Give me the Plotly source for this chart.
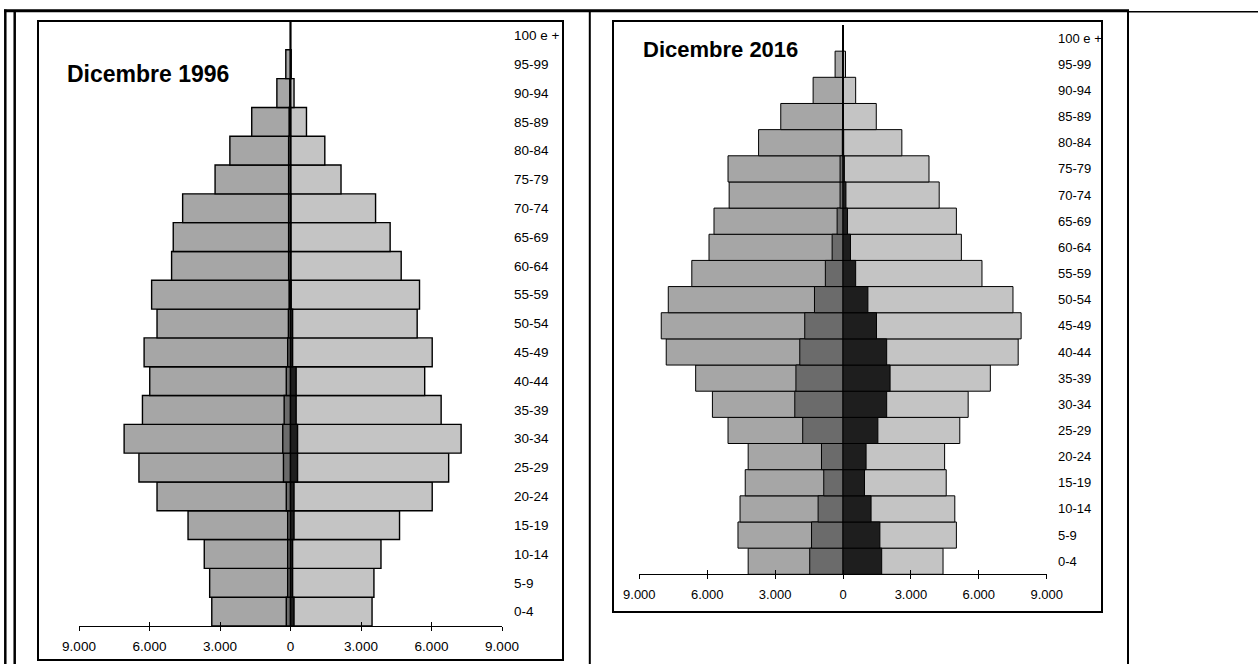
import plotly.graph_objects as go

# ---------------- data ----------------
ages = ["0-4", "5-9", "10-14", "15-19", "20-24", "25-29", "30-34", "35-39",
        "40-44", "45-49", "50-54", "55-59", "60-64", "65-69", "70-74",
        "75-79", "80-84", "85-89", "90-94", "95-99", "100 e +"]

tick_vals = [-9000, -6000, -3000, 0, 3000, 6000, 9000]
tick_text = ["9.000", "6.000", "3.000", "0", "3.000", "6.000", "9.000"]

# Dicembre 1996
left_tot_1996 = [3350, 3440, 3670, 4360, 5680, 6450, 7080, 6300, 5990, 6230, 5680,
                 5910, 5060, 4990, 4590, 3210, 2580, 1650, 580, 200, 0]
right_tot_1996 = [3470, 3550, 3850, 4640, 6030, 6730, 7260, 6410, 5710, 6030, 5390,
                  5490, 4710, 4240, 3620, 2150, 1460, 680, 150, 30, 0]
left_str_1996 = [180, 120, 120, 120, 180, 300, 330, 270, 180, 120, 90,
                 60, 80, 80, 80, 80, 80, 60, 30, 0, 0]
right_str_1996 = [150, 90, 90, 150, 150, 300, 300, 240, 240, 90, 90,
                  30, 20, 20, 20, 10, 10, 10, 0, 0, 0]

# Dicembre 2016
left_tot_2016 = [4190, 4640, 4550, 4320, 4190, 5080, 5770, 6510, 7810, 8030, 7720,
                 6680, 5920, 5700, 5030, 5080, 3730, 2750, 1320, 350, 20]
right_tot_2016 = [4420, 5010, 4940, 4560, 4490, 5160, 5530, 6510, 7740, 7870, 7510,
                  6140, 5230, 5010, 4250, 3800, 2600, 1470, 560, 110, 20]
left_str_2016 = [1470, 1390, 1100, 850, 950, 1780, 2130, 2080, 1910, 1690, 1260,
                 780, 480, 260, 130, 130, 30, 20, 10, 0, 0]
right_str_2016 = [1710, 1630, 1240, 950, 1020, 1540, 1930, 2080, 1930, 1480, 1100,
                  560, 330, 200, 130, 60, 30, 20, 10, 0, 0]

titles = ["Dicembre 1996", "Dicembre 2016"]

# ---------------- styling ----------------
W, H = 1258, 664
FONT = "Liberation Sans, Arial, Helvetica, sans-serif"
C_LEFT = "#a6a6a6"
C_RIGHT = "#c4c4c4"
C_LEFT_IN = "#6b6b6b"
C_RIGHT_IN = "#1e1e1e"


def px(x):
    return x / W


def py(y):
    return 1 - y / H


fig = go.Figure()


def neg(v):
    return [-a for a in v]


def add_pyramid(xa, ya, lt, rt, ls, rs, lw):
    for vals, col in ((neg(lt), C_LEFT), (rt, C_RIGHT), (neg(ls), C_LEFT_IN), (rs, C_RIGHT_IN)):
        fig.add_trace(go.Bar(
            x=vals, y=ages, orientation="h", xaxis=xa, yaxis=ya,
            marker=dict(color=col, line=dict(color="black", width=lw)),
            opacity=1, showlegend=False, hoverinfo="skip"))


add_pyramid("x", "y", left_tot_1996, right_tot_1996, left_str_1996, right_str_1996, 1.4)
add_pyramid("x2", "y2", left_tot_2016, right_tot_2016, left_str_2016, right_str_2016, 1.0)

# dummy traces so the overlay axes (crossing tick marks) are drawn
fig.add_trace(go.Scatter(x=[None], y=[None], xaxis="x3", yaxis="y", mode="markers",
                         showlegend=False, hoverinfo="skip"))
fig.add_trace(go.Scatter(x=[None], y=[None], xaxis="x4", yaxis="y2", mode="markers",
                         showlegend=False, hoverinfo="skip"))


def xaxis_main(x0, x1, anchor, zw, fsize):
    return dict(domain=[px(x0), px(x1)], range=[-9000, 9000], anchor=anchor,
                tickmode="array", tickvals=tick_vals, ticktext=tick_text,
                ticks="outside", ticklen=4, tickwidth=1, tickcolor="black",
                showline=True, linecolor="black", linewidth=1,
                showgrid=False, zeroline=True, zerolinecolor="black",
                zerolinewidth=zw, layer="above traces", fixedrange=True,
                ticklabelstandoff=4, automargin=False,
                tickfont=dict(family=FONT, size=fsize, color="black"))


def xaxis_over(x0, x1, anchor, over):
    return dict(domain=[px(x0), px(x1)], range=[-9000, 9000], anchor=anchor,
                overlaying=over, tickmode="array", tickvals=tick_vals,
                ticks="inside", ticklen=4, tickwidth=1, tickcolor="black",
                showticklabels=False, showline=False, showgrid=False,
                zeroline=False, layer="above traces", fixedrange=True,
                automargin=False)


def yaxis(y_top, y_bot, pos, fsize):
    return dict(domain=[py(y_bot), py(y_top)], range=[-0.5, len(ages) - 0.5],
                type="category", categoryorder="array", categoryarray=ages,
                side="right", anchor="free", position=px(pos),
                showline=False, ticks="", showgrid=False, zeroline=False,
                fixedrange=True, automargin=False,
                tickfont=dict(family=FONT, size=fsize, color="black"))


fig.update_layout(
    template="none",
    width=W, height=H,
    margin=dict(l=0, r=0, t=0, b=0, pad=0, autoexpand=False),
    paper_bgcolor="white", plot_bgcolor="rgba(0,0,0,0)",
    barmode="overlay", bargap=0,
    font=dict(family=FONT, color="black"),
    xaxis=xaxis_main(79, 502, "y", 1, 13.5),
    yaxis=yaxis(21, 626, 513, 13.5),
    xaxis3=xaxis_over(79, 502, "y", "x"),
    xaxis2=xaxis_main(639.3, 1046.7, "y2", 2, 13),
    yaxis2=yaxis(25, 574.3, 1057, 13),
    xaxis4=xaxis_over(639.3, 1046.7, "y2", "x2"),
)

# ---------------- table borders and frames ----------------
def line(x0, y0, x1, y1, w):
    return dict(type="line", xref="paper", yref="paper",
                x0=px(x0), y0=py(y0), x1=px(x1), y1=py(y1),
                line=dict(color="black", width=w), layer="above")


def rect(x0, y0, x1, y1, w):
    return dict(type="rect", xref="paper", yref="paper",
                x0=px(x0), y0=py(y0), x1=px(x1), y1=py(y1),
                line=dict(color="black", width=w),
                fillcolor="rgba(0,0,0,0)", layer="above")


shapes = [
    line(4, 10.8, 1129, 10.8, 3),
    line(1128, 11.8, 1258, 11.8, 1.5),
    line(5.3, 9.5, 5.3, 664, 2.5),
    line(14.7, 10.5, 14.7, 664, 2.5),
    line(589.8, 10.5, 589.8, 664, 2),
    line(1128, 10.5, 1128, 664, 2),
    rect(38, 21, 563, 660, 2),
    rect(613, 21, 1102, 612, 2),
]
fig.update_layout(shapes=shapes)

fig.add_annotation(text="<b>" + titles[0] + "</b>", xref="paper", yref="paper",
                   x=px(65), y=py(74), xanchor="left", yanchor="middle",
                   showarrow=False, font=dict(family=FONT, size=23, color="black"))
fig.add_annotation(text="<b>" + titles[1] + "</b>", xref="paper", yref="paper",
                   x=px(641), y=py(49.5), xanchor="left", yanchor="middle",
                   showarrow=False, font=dict(family=FONT, size=22, color="black"))

fig.write_html("out.html",
               config={"displayModeBar": False, "staticPlot": True},
               post_script="document.body.style.margin='0px';document.body.style.overflow='hidden';")
